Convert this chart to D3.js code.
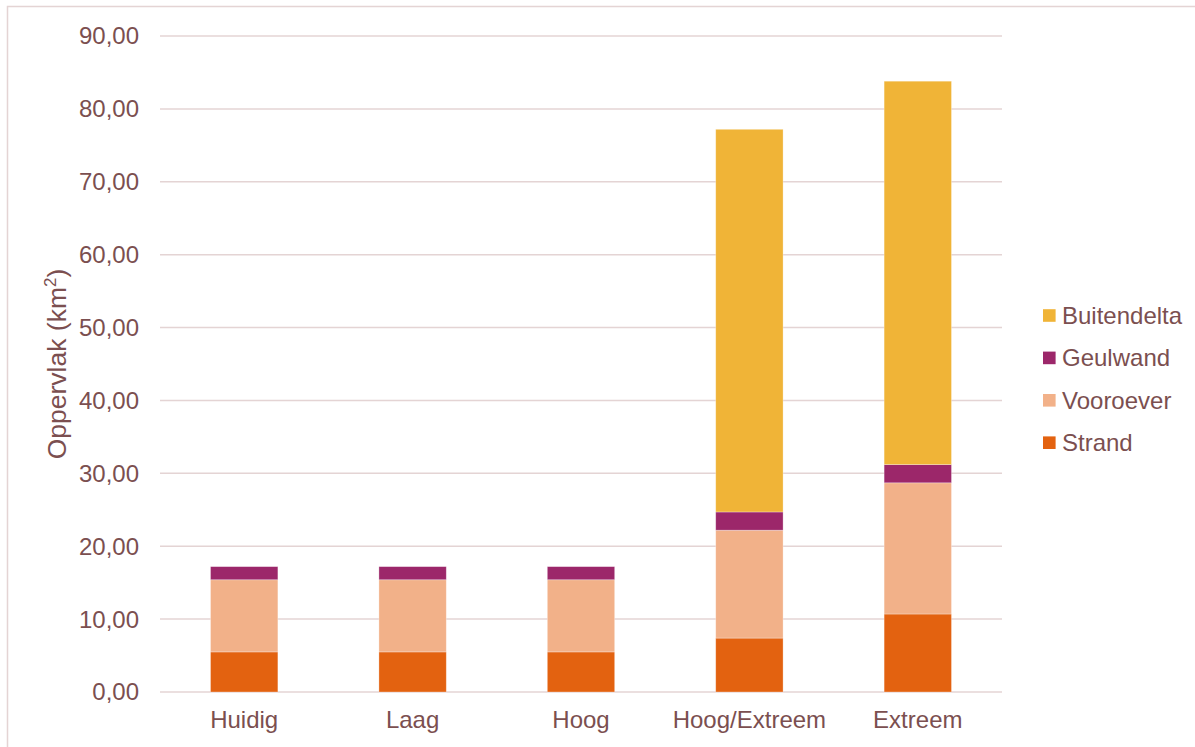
<!DOCTYPE html>
<html>
<head>
<meta charset="utf-8">
<script src="https://cdn.jsdelivr.net/npm/d3@7"></script>
<style>
  body { margin: 0; background: #fff; }
  svg { font-family: "Liberation Sans", Arial, sans-serif; }
</style>
</head>
<body>
<div class="chart"></div>
<script>
const categories = ["Huidig", "Laag", "Hoog", "Hoog/Extreem", "Extreem"];
const seriesNames = ["Strand", "Vooroever", "Geulwand", "Buitendelta"];
const strand = [5.5, 5.5, 5.5, 7.4, 10.7];
const vooroever = [9.9, 9.9, 9.9, 14.8, 18.0];
const geulwand = [1.8, 1.8, 1.8, 2.5, 2.5];
const buitendelta = [0, 0, 0, 52.5, 52.6];
const yTicks = [0, 10, 20, 30, 40, 50, 60, 70, 80, 90];
const colors = ["#E36210", "#F2B189", "#9C276A", "#F0B437"];

const width = 1195,
    height = 747,
    textColor = "#7B4F50",
    gridColor = "#E4D4D4";

// rows for the stack
const rows = categories.map((c, i) => ({
    cat: c,
    Strand: strand[i],
    Vooroever: vooroever[i],
    Geulwand: geulwand[i],
    Buitendelta: buitendelta[i]
}));

const svg = d3.select("div.chart")
    .append("svg")
    .attr("width", width)
    .attr("height", height);

// outer chart border (runs off the right and bottom edge)
svg.append("rect")
    .attr("x", 7.5)
    .attr("y", 6.5)
    .attr("width", width + 10)
    .attr("height", height + 10)
    .attr("fill", "none")
    .attr("stroke", gridColor)
    .attr("stroke-width", 1.5);

const x = d3.scaleBand()
    .domain(categories)
    .range([160, 1002])
    .paddingInner(0.6)
    .paddingOuter(0.3);

const y = d3.scaleLinear()
    .domain([0, 90])
    .range([692, 36]);

// gridlines
svg.append("g")
    .selectAll("line")
    .data(yTicks)
    .enter()
    .append("line")
    .attr("x1", 160)
    .attr("x2", 1002)
    .attr("y1", d => y(d))
    .attr("y2", d => y(d))
    .attr("stroke", gridColor)
    .attr("stroke-width", 1.5);

// y tick labels
svg.append("g")
    .selectAll("text")
    .data(yTicks)
    .enter()
    .append("text")
    .attr("x", 139)
    .attr("y", d => y(d))
    .attr("dy", "0.35em")
    .attr("text-anchor", "end")
    .attr("fill", textColor)
    .style("font-size", "24px")
    .text(d => d3.format(".2f")(d).replace(".", ","));

// stacked bars
const stack = d3.stack().keys(seriesNames)(rows);

svg.append("g")
    .selectAll("g")
    .data(stack)
    .enter()
    .append("g")
    .attr("fill", (d, i) => colors[i])
    .selectAll("rect")
    .data(d => d.filter(p => p[1] - p[0] > 0))
    .enter()
    .append("rect")
    .attr("x", d => x(d.data.cat))
    .attr("width", x.bandwidth())
    .attr("y", d => y(d[1]))
    .attr("height", d => y(d[0]) - y(d[1]))
    .attr("stroke", "#fff")
    .attr("stroke-opacity", 0.4)
    .attr("stroke-width", 0.75);

// x labels
svg.append("g")
    .selectAll("text")
    .data(categories)
    .enter()
    .append("text")
    .attr("x", d => x(d) + x.bandwidth() / 2)
    .attr("y", 728)
    .attr("text-anchor", "middle")
    .attr("fill", textColor)
    .style("font-size", "24px")
    .text(d => d);

// y axis title
const title = svg.append("text")
    .attr("transform", "translate(66,364) rotate(-90)")
    .attr("text-anchor", "middle")
    .attr("fill", textColor)
    .style("font-size", "26.5px");
title.append("tspan").text("Oppervlak (km");
title.append("tspan").attr("dy", -10).style("font-size", "17px").text("2");
title.append("tspan").attr("dy", 10).text(")");

// legend, top item is Buitendelta
const legendItems = seriesNames.slice().reverse();
const legendColors = colors.slice().reverse();
const legend = svg.append("g")
    .selectAll("g")
    .data(legendItems)
    .enter()
    .append("g")
    .attr("transform", (d, i) => `translate(1043,${315.5 + i * 42.4})`);

legend.append("rect")
    .attr("x", 0)
    .attr("y", -6.3)
    .attr("width", 12.6)
    .attr("height", 12.6)
    .attr("fill", (d, i) => legendColors[i]);

legend.append("text")
    .attr("x", 19)
    .attr("dy", "0.35em")
    .attr("fill", textColor)
    .style("font-size", "24px")
    .text(d => d);
</script>
</body>
</html>
